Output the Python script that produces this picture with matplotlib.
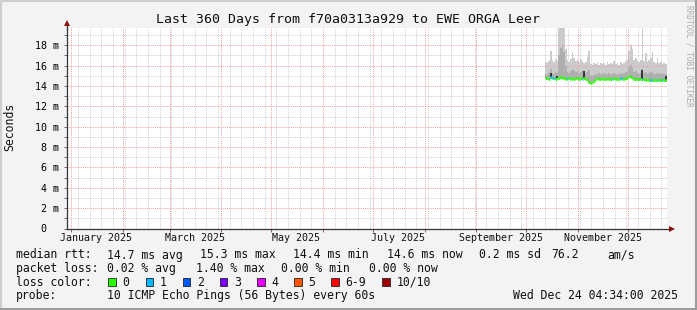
import datetime as dt
import matplotlib
matplotlib.use("Agg")
import matplotlib.pyplot as plt
import matplotlib.dates as mdates
from matplotlib.patches import Rectangle
from matplotlib.lines import Line2D
import numpy as np

plt.rcParams['font.family'] = ['DejaVu Sans Mono']

W, H = 697, 310

title = "Last 360 Days from f70a0313a929 to EWE ORGA Leer"
t_end = dt.datetime(2025, 12, 24, 4, 34)
t_start = t_end - dt.timedelta(days=360)
first_day = dt.datetime(2025, 10, 12, 4, 34)

# daily ping statistics, milliseconds (one value per day from first_day)
rtt_max = [16.4, 16.3, 16.5, 17.4, 16.6, 16.4, 16.7, 16.5, 19.8, 19.8,
           19.8, 19.8, 17.6, 16.6, 16.4, 16.7, 17.3, 16.8, 16.5, 16.6,
           16.4, 16.7, 16.5, 16.3, 16.4, 16.9, 17.4, 16.2, 16.1, 16.3,
           16.2, 16.4, 16.1, 16.3, 16.2, 16.3, 16.1, 16.4, 16.2, 16.3,
           16.2, 16.5, 16.2, 16.3, 16.1, 16.4, 16.2, 16.3, 16.5, 16.7,
           17.4, 18.0, 17.6, 16.6, 16.8, 16.5, 16.4, 16.6, 19.7, 16.5,
           17.2, 16.4, 16.6, 16.8, 17.3, 16.4, 16.3, 16.8, 16.3, 16.4,
           16.2, 16.3, 16.2]
rtt_q75 = [15.2, 15.1, 15.3, 15.7, 15.3, 15.2, 15.4, 15.3, 17.0, 17.7,
           17.9, 17.3, 16.0, 15.4, 15.3, 15.5, 15.7, 15.6, 15.4, 15.5,
           15.3, 15.4, 15.6, 15.5, 15.3, 15.4, 15.6, 15.1, 15.0, 15.1,
           15.2, 15.1, 15.3, 15.2, 15.1, 15.3, 15.2, 15.2, 15.3, 15.1,
           15.2, 15.3, 15.2, 15.1, 15.2, 15.3, 15.2, 15.3, 15.4, 15.5,
           15.9, 16.1, 15.8, 15.4, 15.5, 15.3, 15.2, 15.3, 15.8, 15.3,
           15.4, 15.2, 15.3, 15.4, 15.5, 15.2, 15.2, 15.4, 15.2, 15.3,
           15.2, 15.2, 15.2]
rtt_median = [14.75, 14.8, 14.7, 14.85, 14.75, 14.8, 14.7, 14.75, 14.8, 14.85,
              14.75, 14.8, 14.7, 14.75, 14.8, 14.7, 14.75, 14.7, 14.75, 14.8,
              14.7, 14.75, 14.7, 14.8, 14.7, 14.6, 14.35, 14.3, 14.35, 14.5,
              14.7, 14.75, 14.7, 14.72, 14.75, 14.7, 14.72, 14.75, 14.7, 14.72,
              14.7, 14.75, 14.72, 14.7, 14.72, 14.75, 14.7, 14.72, 14.75, 14.8,
              14.95, 14.9, 14.8, 14.7, 14.68, 14.7, 14.65, 14.7, 14.68, 14.65,
              14.62, 14.65, 14.6, 14.62, 14.6, 14.58, 14.6, 14.62, 14.6, 14.58,
              14.6, 14.6, 14.58]
rtt_min = [14.6, 14.65, 14.55, 14.65, 14.6, 14.65, 14.55, 14.6, 14.65, 14.7,
           14.6, 14.65, 14.55, 14.6, 14.65, 14.55, 14.6, 14.55, 14.6, 14.65,
           14.55, 14.6, 14.55, 14.65, 14.55, 14.45, 14.2, 14.15, 14.2, 14.35,
           14.55, 14.6, 14.55, 14.57, 14.6, 14.55, 14.57, 14.6, 14.55, 14.57,
           14.55, 14.6, 14.57, 14.55, 14.57, 14.6, 14.55, 14.57, 14.6, 14.65,
           14.8, 14.75, 14.65, 14.55, 14.53, 14.55, 14.5, 14.55, 14.53, 14.5,
           14.47, 14.5, 14.45, 14.47, 14.45, 14.43, 14.45, 14.47, 14.45, 14.43,
           14.45, 14.45, 14.43]
loss = [0, 0, 0, 1, 0, 1, 0, 0, 0, 0,
        0, 0, 0, 1, 0, 0, 0, 0, 0, 0,
        0, 0, 1, 0, 0, 0, 0, 0, 0, 0,
        0, 0, 0, 0, 0, 0, 0, 0, 0, 0,
        1, 0, 0, 0, 0, 1, 0, 0, 0, 0,
        0, 0, 0, 0, 0, 0, 0, 0, 1, 0,
        0, 0, 0, 1, 0, 0, 0, 1, 0, 0,
        1, 0, 0]
spike_day = [3, 7, 23, 58, 72]
spike_top = [15.3, 15.0, 15.5, 15.6, 15.0]

loss_labels = ["0", "1", "2", "3", "4", "5", "6-9", "10/10"]
loss_colors = ["#26ff00", "#00b8ff", "#0059ff", "#7e00ff", "#e600ff",
               "#ff5500", "#ff0000", "#a10000"]

month_labels = ["January 2025", "March 2025", "May 2025", "July 2025",
                "September 2025", "November 2025"]
month_label_dates = [dt.datetime(2025, m, 16) for m in (1, 3, 5, 7, 9, 11)]

y_ticks = [0, 2, 4, 6, 8, 10, 12, 14, 16, 18]


def fx(px):
    return px / W


def fy(py):
    return 1 - py / H


fig = plt.figure(figsize=(W / 100, H / 100), dpi=100, facecolor='#f3f3f3')
ax = fig.add_axes([fx(66.5), fy(228.5), 600 / W, 201 / H])
ax.set_facecolor('white')

n = len(rtt_median)
edges = [first_day + dt.timedelta(days=i) for i in range(n + 1)]
e_num = mdates.date2num(edges)


def ext(v):
    v = np.array(v) / 1000
    return np.append(v, v[-1])


ax.fill_between(e_num, ext(rtt_min), ext(rtt_max),
                step='post', color='#cbcbcb', lw=0, zorder=1)
ax.fill_between(e_num, ext(rtt_median), ext(rtt_q75),
                step='post', color='#afafaf', lw=0, zorder=2)
for d, top in zip(spike_day, spike_top):
    xc = (e_num[d] + e_num[d + 1]) / 2
    ax.vlines(xc, rtt_median[d] / 1000, top / 1000, color='#202020', lw=1.2, zorder=3)
ax.hlines(np.array(rtt_median) / 1000, e_num[:-1], e_num[1:],
          colors=[loss_colors[l] for l in loss], lw=1.8, zorder=4)

ax.set_xlim(mdates.date2num(t_start), mdates.date2num(t_end))
ax.set_ylim(0, 0.01975)

# grid
ax.xaxis.set_major_locator(mdates.MonthLocator())
ax.xaxis.set_minor_locator(mdates.WeekdayLocator(byweekday=mdates.SU))
ax.xaxis.set_major_formatter(plt.NullFormatter())
ax.set_yticks([v / 1000 for v in y_ticks])
ax.set_yticks([v / 1000 for v in range(1, 20, 2)], minor=True)
ax.set_yticklabels([f"{v} m" if v else "0  " for v in y_ticks])
ax.grid(which='minor', color='#cfcfcf', lw=0.7, ls=(0, (1, 1)), zorder=5)
ax.grid(which='major', color='#f3a0a0', lw=0.7, ls=(0, (1, 1)), zorder=6)
ax.tick_params(which='both', direction='out', length=2.2, width=0.6, color='#555555',
               labelsize=7.2, pad=2.9)
ax.tick_params(axis='x', which='minor', length=0)

for s in ('top', 'right'):
    ax.spines[s].set_visible(False)
for s in ('left', 'bottom'):
    ax.spines[s].set_color('#333333')
    ax.spines[s].set_linewidth(0.9)
    ax.spines[s].set_zorder(7)

# axis arrows
fig.add_artist(Line2D([fx(668), fx(670)], [fy(228.5), fy(228.5)], color='#333333', lw=0.9))
fig.add_artist(Line2D([fx(672)], [fy(228.5)], marker='>', ms=5, color='#8b1010', mew=0))
fig.add_artist(Line2D([fx(66.5), fx(66.5)], [fy(27.5), fy(24)], color='#333333', lw=0.9))
fig.add_artist(Line2D([fx(66.5)], [fy(23)], marker='^', ms=5, color='#8b1010', mew=0))

for lab, d in zip(month_labels, month_label_dates):
    ax.text(mdates.date2num(d), -9.2 / 201, lab, transform=ax.get_xaxis_transform(),
            ha='center', va='center', fontsize=7.2, color='#111111')

fig.text(fx(348), fy(19), title, ha='center', va='center', fontsize=9.5, color='#111111')
fig.text(fx(10), fy(127), "Seconds", rotation=90, ha='center', va='center',
         fontsize=8.3, color='#111111')
fig.text(fx(688.5), fy(5), "RRDTOOL / TOBI OETIKER", rotation=270, ha='center', va='top',
         fontsize=5.6, color='#aaaaaa')

fs = 8.3
rows = [
    (255, [(16, "median rtt:"), (107.3, "14.7 ms avg"), (200, "15.3 ms max"),
           (293.3, "14.4 ms min"), (386.7, "14.6 ms now"), (479.3, "0.2 ms sd"),
           (551.7, "76.2"), (607.3, "am/s")]),
    (268.3, [(16, "packet loss:"), (107.3, "0.02 % avg"), (196, "1.40 % max"),
             (281, "0.00 % min"), (369.3, "0.00 % now")]),
    (282.3, [(16, "loss color:")]),
    (295.7, [(16, "probe:"), (107.3, "10 ICMP Echo Pings (56 Bytes) every 60s"),
             (513.3, "Wed Dec 24 04:34:00 2025")]),
]
for yc, items in rows:
    for x, s in items:
        fig.text(fx(x), fy(yc), s, ha='left', va='center', fontsize=fs, color='#111111')

sw_x = [108.3, 145.7, 182.7, 220, 257.3, 294.3, 331.3, 382.3]
for x, lab, col in zip(sw_x, loss_labels, loss_colors):
    fig.add_artist(Rectangle((fx(x), fy(286)), 7.5 / W, 8 / H, facecolor=col,
                             edgecolor='#222222', lw=0.6))
    fig.text(fx(x + 14), fy(282.3), lab, ha='left', va='center', fontsize=fs, color='#111111')

# 3d frame
fig.add_artist(Line2D([0, 1], [fy(1), fy(1)], color='#cfcfcf', lw=1.5))
fig.add_artist(Line2D([fx(1), fx(1)], [0, 1], color='#cfcfcf', lw=1.5))
fig.add_artist(Line2D([0, 1], [fy(309), fy(309)], color='#9c9c9c', lw=1.5))
fig.add_artist(Line2D([fx(696), fx(696)], [0, 1], color='#9c9c9c', lw=1.5))

fig.savefig("out.png", dpi=100, facecolor=fig.get_facecolor())
